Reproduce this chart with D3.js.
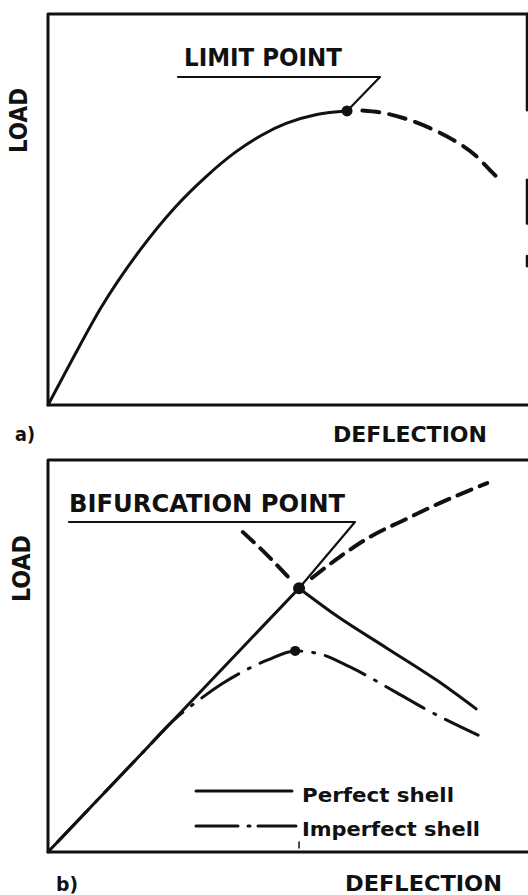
<!DOCTYPE html>
<html>
<head>
  <style>
    body {
      margin: 0;
      background: #fff;
    }
    text {
      font-family: "DejaVu Sans Condensed", "DejaVu Sans", sans-serif;
      font-weight: bold;
      fill: #111;
    }
    .frame, .curve, .leader {
      fill: none;
      stroke: #111;
      stroke-linecap: round;
      stroke-linejoin: round;
    }
  </style>
</head>
<body>
  <script src="https://d3js.org/d3.v7.min.js"></script>
  <script>
    var width = 528, height = 895;

    // panel a) limit point (deflection, load), 0..100 both ways
    var limitStable = [[0, 0], [5, 11.5], [11, 24.8], [19.4, 40], [26.5, 50.6], [33, 58.5], [39.2, 64.8], [44.5, 69], [49.6, 72], [56, 74.3], [62.3, 75.2]];
    var limitUnstable = [[65.5, 75.3], [69.8, 74.7], [74.0, 73.4], [79.6, 70.8], [84.4, 67.8], [89.0, 63.9], [92.7, 59.3], [94.2, 57.5]];
    var limitPoint = [62.3, 75.2];

    // panel b) bifurcation point
    var perfectPre = [[0, 0], [52.3, 67.3]];
    var perfectPost = [[52.3, 67.3], [60.2, 60.2], [70.6, 52.0], [81.25, 43.6], [89.2, 36.5]];
    var branchLeft = [[40.6, 81.6], [45.2, 76.3], [50.0, 70.2]];
    var branchRight = [[55.0, 69.9], [60.8, 75.3], [67.1, 80.4], [74.2, 84.7], [81.25, 88.8], [91.5, 94.1]];
    var imperfect = [[0, 0], [12.9, 16.6], [20, 25.7], [25.8, 33.2], [31.7, 39.0], [36.25, 42.9], [40.4, 45.9], [45.8, 49.0], [51.5, 51.3], [56.7, 50.5], [62.9, 47.2], [72.7, 40.6], [78.3, 36.7], [89.6, 29.8]];
    var bifPoint = [52.3, 67.3];
    var imperfectPeak = [51.5, 51.3];

    var legendLabels = ["Perfect shell", "Imperfect shell"];

    var svg = d3.select("body").append("svg")
        .attr("width", width)
        .attr("height", height);

    var x = d3.scaleLinear().domain([0, 100]).range([48, 528]);
    var yA = d3.scaleLinear().domain([0, 100]).range([405, 14]);
    var yB = d3.scaleLinear().domain([0, 100]).range([852, 460]);

    function lineFor(y, curve){
      return d3.line()
        .x(d => x(d[0]))
        .y(d => y(d[1]))
        .curve(curve || d3.curveMonotoneX);
    }

    function frame(y){
      svg.append("path")
        .attr("class", "frame")
        .attr("stroke-width", 3)
        .attr("d", "M" + x(100) + "," + y(100) + "H" + x(0) + "V" + y(0) + "H" + x(100));
    }

    function label(txt, px, py, size, len){
      return svg.append("text")
        .attr("x", px)
        .attr("y", py)
        .attr("font-size", size)
        .attr("textLength", len)
        .attr("lengthAdjust", "spacingAndGlyphs")
        .text(txt);
    }

    // ---- panel a
    frame(yA);
    // bits of the right edge that survived the scan
    [[100, 75.4], [57.6, 46.4], [38.1, 35.5]].forEach(function(s){
      svg.append("line")
        .attr("class", "frame")
        .attr("stroke-width", 2.5)
        .attr("x1", 527).attr("x2", 527)
        .attr("y1", yA(s[0])).attr("y2", yA(s[1]));
    });

    svg.append("path")
      .attr("class", "curve")
      .attr("stroke-width", 3)
      .attr("d", lineFor(yA)(limitStable));

    svg.append("path")
      .attr("class", "curve")
      .attr("stroke-width", 4)
      .attr("stroke-dasharray", "17,10")
      .attr("d", lineFor(yA)(limitUnstable));

    svg.append("circle")
      .attr("cx", x(limitPoint[0]))
      .attr("cy", yA(limitPoint[1]))
      .attr("r", 5.5)
      .attr("fill", "#111");

    svg.append("path")
      .attr("class", "leader")
      .attr("stroke-width", 2.2)
      .attr("d", "M178,77H380L" + x(limitPoint[0]) + "," + yA(limitPoint[1]));

    label("LIMIT POINT", 184, 66, 25, 158);

    label("LOAD", 0, 0, 24, 65)
      .attr("transform", "translate(27,153) rotate(-90)");
    label("a)", 15, 441, 19, 20);
    label("DEFLECTION", 333, 442, 22, 154);

    // ---- panel b
    frame(yB);

    svg.append("path")
      .attr("class", "curve")
      .attr("stroke-width", 3)
      .attr("d", lineFor(yB, d3.curveLinear)(perfectPre));

    svg.append("path")
      .attr("class", "curve")
      .attr("stroke-width", 3)
      .attr("d", lineFor(yB)(perfectPost));

    [branchLeft, branchRight].forEach(function(b){
      svg.append("path")
        .attr("class", "curve")
        .attr("stroke-width", 4)
        .attr("stroke-dasharray", "15,9")
        .attr("d", lineFor(yB)(b));
    });

    svg.append("path")
      .attr("class", "curve")
      .attr("stroke-width", 3)
      .attr("stroke-dasharray", "44,11,2,11")
      .attr("stroke-dashoffset", -150)
      .attr("d", lineFor(yB)(imperfect));

    [[bifPoint, 6], [imperfectPeak, 5]].forEach(function(p){
      svg.append("circle")
        .attr("cx", x(p[0][0]))
        .attr("cy", yB(p[0][1]))
        .attr("r", p[1])
        .attr("fill", "#111");
    });

    svg.append("path")
      .attr("class", "leader")
      .attr("stroke-width", 2.2)
      .attr("d", "M69,522H355L" + x(bifPoint[0]) + "," + yB(bifPoint[1]));

    label("BIFURCATION POINT", 69, 512, 25, 276);

    // small tick on the deflection axis
    svg.append("line")
      .attr("class", "frame")
      .attr("stroke-width", 1.5)
      .attr("x1", x(bifPoint[0])).attr("x2", x(bifPoint[0]))
      .attr("y1", 842).attr("y2", 848);

    // legend
    svg.append("line")
      .attr("class", "curve")
      .attr("stroke-width", 3)
      .attr("x1", 196).attr("x2", 292)
      .attr("y1", 791).attr("y2", 791);
    svg.append("line")
      .attr("class", "curve")
      .attr("stroke-width", 3)
      .attr("stroke-dasharray", "42,10,2,8,40")
      .attr("x1", 196).attr("x2", 296)
      .attr("y1", 826).attr("y2", 826);
    legendLabels.forEach(function(t, i){
      label(t, 302, 802 + i * 34, 20, i === 0 ? 152 : 178);
    });

    label("LOAD", 0, 0, 24, 67)
      .attr("transform", "translate(30,602) rotate(-90)");
    label("b)", 56, 891, 19, 22);
    label("DEFLECTION", 345, 891, 22, 157);
  </script>
</body>
</html>
